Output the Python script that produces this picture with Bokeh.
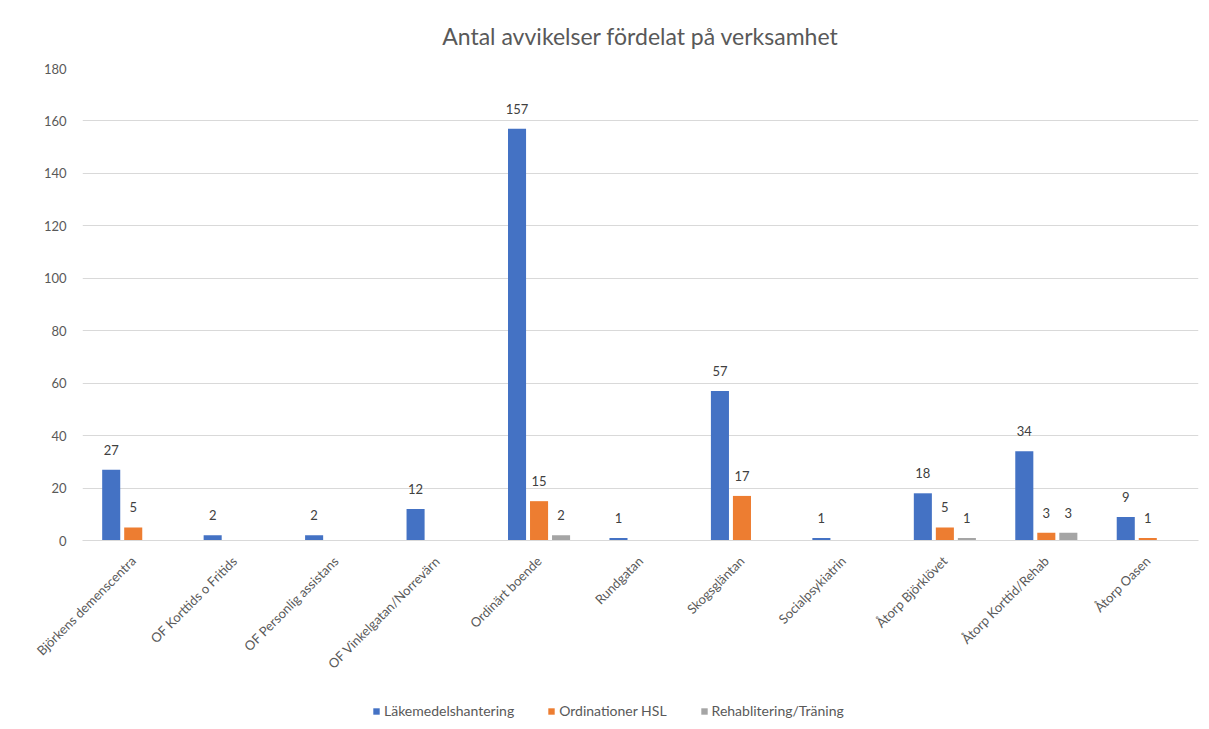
from math import pi
from bokeh.plotting import figure
from bokeh.layouts import column
from bokeh.models import ColumnDataSource, FactorRange, Legend, LegendItem, Range1d, FixedTicker
from bokeh.transform import dodge
from bokeh.core.properties import value
from bokeh.embed import file_html
from bokeh.resources import INLINE

categories = ["Björkens demenscentra", "OF Korttids o Fritids", "OF Personlig assistans",
              "OF Vinkelgatan/Norrevärn", "Ordinärt boende", "Rundgatan", "Skogsgläntan",
              "Socialpsykiatrin", "Åtorp Björklövet", "Åtorp Korttid/Rehab", "Åtorp Oasen"]
series_names = ["Läkemedelshantering", "Ordinationer HSL", "Rehablitering/Träning"]
lakemedel = [27, 2, 2, 12, 157, 1, 57, 1, 18, 34, 9]
ordinationer = [5, 0, 0, 0, 15, 0, 17, 0, 5, 3, 1]
rehab = [0, 0, 0, 0, 2, 0, 0, 0, 1, 3, 0]
y_ticks = [0, 20, 40, 60, 80, 100, 120, 140, 160, 180]

colors = ["#4472C4", "#ED7D31", "#A5A5A5"]
FONT = "Lato"
TXT = "#595959"

p = figure(x_range=FactorRange(*categories), y_range=Range1d(0, 180),
           width=1205, height=700, output_backend="svg", toolbar_location=None,
           min_border_left=82, min_border_right=7, min_border_top=68, min_border_bottom=160)

p.title.text = "Antal avvikelser fördelat på verksamhet"
p.title.align = "center"
p.title.text_font = FONT
p.title.text_font_size = "23px"
p.title.text_font_style = "normal"
p.title.text_color = TXT
p.title.offset = 0
p.title.standoff = 37

p.outline_line_color = None
p.xgrid.grid_line_color = None
p.ygrid.grid_line_color = "#D9D9D9"
p.ygrid.grid_line_width = 1

p.yaxis.ticker = FixedTicker(ticks=y_ticks)
p.yaxis.axis_line_color = None
p.yaxis.major_tick_line_color = None
p.yaxis.minor_tick_line_color = None
p.yaxis.major_label_text_font = FONT
p.yaxis.major_label_text_font_size = "13px"
p.yaxis.major_label_text_color = TXT
p.yaxis.major_label_standoff = 10

p.xaxis.axis_line_color = "#D9D9D9"
p.xaxis.major_tick_line_color = None
p.xaxis.minor_tick_line_color = None
p.xaxis.major_label_orientation = pi / 4
p.xaxis.major_label_text_font = FONT
p.xaxis.major_label_text_font_size = "13px"
p.xaxis.major_label_text_color = TXT
p.xaxis.major_label_standoff = 12

p.x_range.range_padding = 0
p.x_range.group_padding = 0
p.x_range.factor_padding = 0

offsets = [-0.217, 0.0, 0.217]
data_lists = [lakemedel, ordinationer, rehab]
for name, vals, off, col in zip(series_names, data_lists, offsets, colors):
    src = ColumnDataSource(dict(x=categories, y=vals))
    p.vbar(x=dodge("x", off, range=p.x_range), top="y", width=0.178, source=src,
           fill_color=col, line_color=None)
    lx = [c for c, v in zip(categories, vals) if v > 0]
    ly = [v for v in vals if v > 0]
    lsrc = ColumnDataSource(dict(x=lx, y=ly, t=[str(v) for v in ly]))
    p.text(x=dodge("x", off, range=p.x_range), y="y", text="t", source=lsrc,
           text_align="center", text_baseline="bottom", y_offset=-15,
           text_font=value(FONT), text_font_size="13px", text_color="#404040")

# legend strip below the chart (its frame is aligned with the chart's frame)
p2 = figure(width=1205, height=25, output_backend="svg", toolbar_location=None,
            x_range=Range1d(0, 1), y_range=Range1d(0, 1),
            min_border_left=82, min_border_right=7, min_border_top=0, min_border_bottom=0)
p2.axis.visible = False
p2.grid.grid_line_color = None
p2.outline_line_color = None
leg_renderers = []
for name, col in zip(series_names, colors):
    # off-range placeholder glyph: only used to draw the legend swatch
    r = p2.vbar(x=[-5], top=[0], width=0.1, fill_color=col, line_color=None)
    leg_renderers.append(r)

legend = Legend(items=[LegendItem(label=n, renderers=[r]) for n, r in zip(series_names, leg_renderers)],
                orientation="horizontal", location=(290, 6))
legend.label_text_font = FONT
legend.label_text_font_size = "14px"
legend.label_text_color = TXT
legend.glyph_width = 8
legend.glyph_height = 8
legend.spacing = 33
legend.label_standoff = 4
legend.border_line_color = None
legend.background_fill_alpha = 0
legend.padding = 0
legend.margin = 0
p2.add_layout(legend, "center")

layout = column(p, p2, spacing=0)
open("out.html", "w").write(file_html(layout, INLINE))
